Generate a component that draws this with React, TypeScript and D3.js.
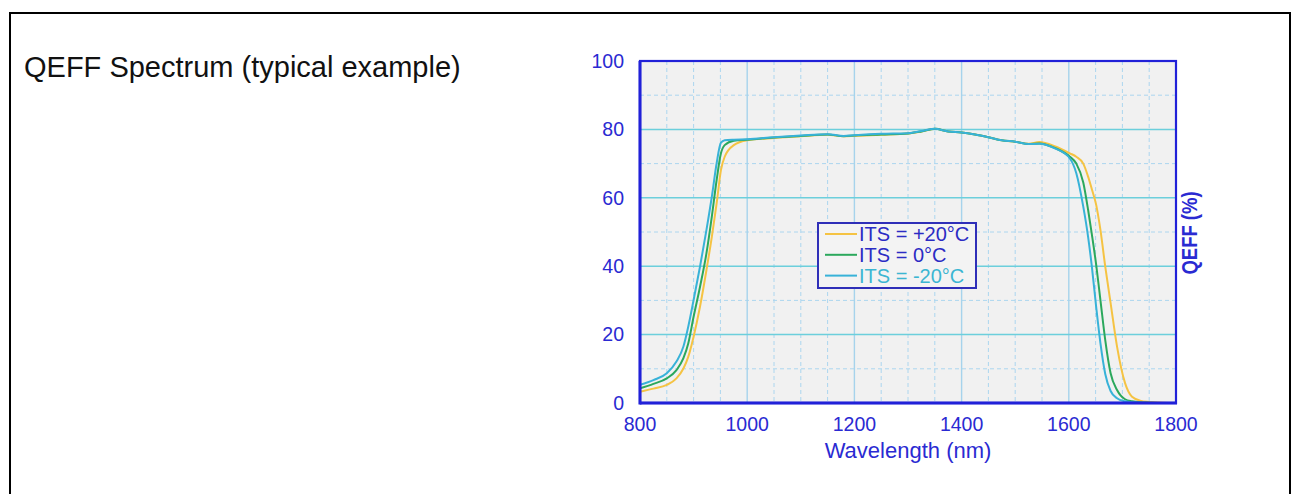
import React from 'react';
import * as d3 from 'd3';

// wavelength grid (nm) shared by the three curves
const wavelengths = [
  800, 825, 850, 868, 881, 890, 900, 912, 924, 934, 943, 951, 958, 975, 1000,
  1050, 1100, 1150, 1180, 1200, 1250, 1300, 1325, 1350, 1375, 1400, 1425, 1450,
  1475, 1500, 1525, 1545, 1575, 1602, 1614, 1627, 1636, 1643, 1651, 1659, 1668,
  1678, 1690, 1705, 1718, 1733, 1750, 1775, 1800,
];

// QEFF (%)
const qeffPlus20 = [
  3.3, 4.2, 5.3, 7.2, 10.1, 13.5, 19.4, 28.2, 38.9, 48.6, 58.4, 68.1, 72.0, 75.4, 76.8,
  77.5, 78.0, 78.4, 78.0, 78.1, 78.4, 78.8, 79.4, 80.2, 79.4, 79.1, 78.5, 77.7,
  76.8, 76.4, 75.8, 76.3, 75.0, 73.0, 72.0, 70.0, 66.2, 62.5, 58.0, 50.6, 39.9,
  29.2, 16.5, 5.8, 1.8, 0.7, 0.3, 0.1, 0,
];
const qeffZero = [
  4.3, 5.6, 7.2, 9.6, 13.1, 17.4, 25.2, 34.0, 43.8, 54.5, 65.2, 73.0, 75.4, 76.7, 77.0,
  77.6, 78.1, 78.5, 78.0, 78.2, 78.5, 78.8, 79.4, 80.2, 79.4, 79.1, 78.5, 77.7,
  76.8, 76.4, 75.7, 75.9, 74.5, 72.0, 70.0, 64.5, 56.5, 49.3, 40.5, 30.1, 18.4,
  8.7, 3.8, 1.1, 0.5, 0.2, 0.1, 0, 0,
];
const qeffMinus20 = [
  5.3, 6.7, 8.7, 12.1, 16.5, 22.3, 30.1, 39.9, 50.6, 60.3, 70.1, 76.1, 76.8, 77.0, 77.1,
  77.7, 78.2, 78.6, 78.1, 78.3, 78.7, 78.9, 79.5, 80.2, 79.4, 79.1, 78.5, 77.7,
  76.8, 76.4, 75.7, 75.8, 74.4, 71.5, 67.2, 57.4, 48.6, 39.9, 28.2, 17.5, 8.5,
  3.5, 1.4, 0.5, 0.2, 0.1, 0, 0, 0,
];

const seriesNames = ['ITS = +20°C', 'ITS = 0°C', 'ITS = -20°C'];
const xTickValues = [800, 1000, 1200, 1400, 1600, 1800];
const yTickValues = [0, 20, 40, 60, 80, 100];

const W = 1300;
const H = 494;
const plot = { left: 640, top: 61, right: 1176, bottom: 403 };
const font = 'Liberation Sans, Arial, Helvetica, sans-serif';
const blue = '#2a2ad2';

const lineColors = ['#f5c343', '#2ba85c', '#38b2d8'];
const legendTextColors = ['#2b2bc4', '#2b2bc4', '#3cb6d2'];

export default function App() {
  const x = d3.scaleLinear().domain([800, 1800]).range([plot.left, plot.right]);
  const y = d3.scaleLinear().domain([0, 100]).range([plot.bottom, plot.top]);

  const line = d3
    .line<number>()
    .x((_, i) => x(wavelengths[i]))
    .y((d) => y(d))
    .curve(d3.curveMonotoneX);

  const series = [qeffPlus20, qeffZero, qeffMinus20];

  const minorX = d3.range(850, 1800, 50).filter((v) => v % 200 !== 0);
  const minorY = d3.range(10, 100, 20);
  const majorX = xTickValues.slice(1, -1);
  const majorY = yTickValues.slice(1, -1);

  const legend = { x: 818, y: 223, w: 158, h: 65 };

  return (
    <svg
      width={W}
      height={H}
      style={{ position: 'absolute', left: 0, top: 0, background: '#fff' }}
      fontFamily={font}
    >
      <defs>
        <clipPath id="plotClip">
          <rect x={plot.left} y={plot.top} width={plot.right - plot.left} height={plot.bottom - plot.top} />
        </clipPath>
      </defs>

      {/* outer frame, its bottom edge runs off the page */}
      <rect x={10} y={13} width={1280} height={520} fill="none" stroke="#000" strokeWidth={2} />

      <text x={24} y={77} fontSize={29} fill="#111">
        QEFF Spectrum (typical example)
      </text>

      {/* plot background */}
      <rect x={plot.left} y={plot.top} width={plot.right - plot.left} height={plot.bottom - plot.top} fill="#f1f1f1" />

      {/* grid */}
      {minorX.map((v) => (
        <line key={'mx' + v} x1={x(v)} x2={x(v)} y1={plot.top} y2={plot.bottom}
          stroke="#acd6ef" strokeWidth={1} strokeDasharray="4 3" />
      ))}
      {minorY.map((v) => (
        <line key={'my' + v} x1={plot.left} x2={plot.right} y1={y(v)} y2={y(v)}
          stroke="#acd6ef" strokeWidth={1} strokeDasharray="4 3" />
      ))}
      {majorX.map((v) => (
        <line key={'gx' + v} x1={x(v)} x2={x(v)} y1={plot.top} y2={plot.bottom}
          stroke="#a6d3ec" strokeWidth={1.4} />
      ))}
      {majorY.map((v) => (
        <line key={'gy' + v} x1={plot.left} x2={plot.right} y1={y(v)} y2={y(v)}
          stroke="#6ccfdc" strokeWidth={1.5} />
      ))}

      {/* curves */}
      <g clipPath="url(#plotClip)">
        {series.map((s, i) => (
          <path key={i} d={line(s) || ''} fill="none" stroke={lineColors[i]} strokeWidth={2}
            strokeLinejoin="round" />
        ))}
      </g>

      {/* legend */}
      <rect x={legend.x} y={legend.y} width={legend.w} height={legend.h} fill="#f3f3f3" stroke="#2f2fb8" strokeWidth={2} />
      {seriesNames.map((name, i) => {
        const cy = legend.y + 11 + i * 20.8;
        return (
          <g key={name}>
            <line x1={legend.x + 7} x2={legend.x + 39} y1={cy} y2={cy} stroke={lineColors[i]} strokeWidth={2} />
            <text x={legend.x + 41} y={cy} dy="0.36em" fontSize={20} fill={legendTextColors[i]}>
              {name}
            </text>
          </g>
        );
      })}

      {/* plot frame */}
      <rect x={plot.left} y={plot.top} width={plot.right - plot.left} height={plot.bottom - plot.top}
        fill="none" stroke="#2121d8" strokeWidth={2.2} />
      <line x1={plot.left} x2={plot.left} y1={plot.top} y2={plot.bottom + 1.5} stroke="#2121d8" strokeWidth={3} />
      <line x1={plot.left} x2={plot.right + 1} y1={plot.bottom} y2={plot.bottom} stroke="#2121d8" strokeWidth={3} />

      {/* tick labels */}
      {yTickValues.map((v) => (
        <text key={'yt' + v} x={624} y={y(v)} dy="0.35em" textAnchor="end" fontSize={19.5} fill={blue}>
          {v}
        </text>
      ))}
      {xTickValues.map((v) => (
        <text key={'xt' + v} x={x(v)} y={431} textAnchor="middle" fontSize={19.5} fill={blue}>
          {v}
        </text>
      ))}

      <text x={(plot.left + plot.right) / 2} y={458} textAnchor="middle" fontSize={22} fill={blue}>
        Wavelength (nm)
      </text>
      <text transform={`translate(1197,${(plot.top + plot.bottom) / 2 + 1}) scale(1.15,1) rotate(-90)`}
        textAnchor="middle" fontSize={18.5} fontWeight="bold" fill={blue}>
        QEFF (%)
      </text>
    </svg>
  );
}
